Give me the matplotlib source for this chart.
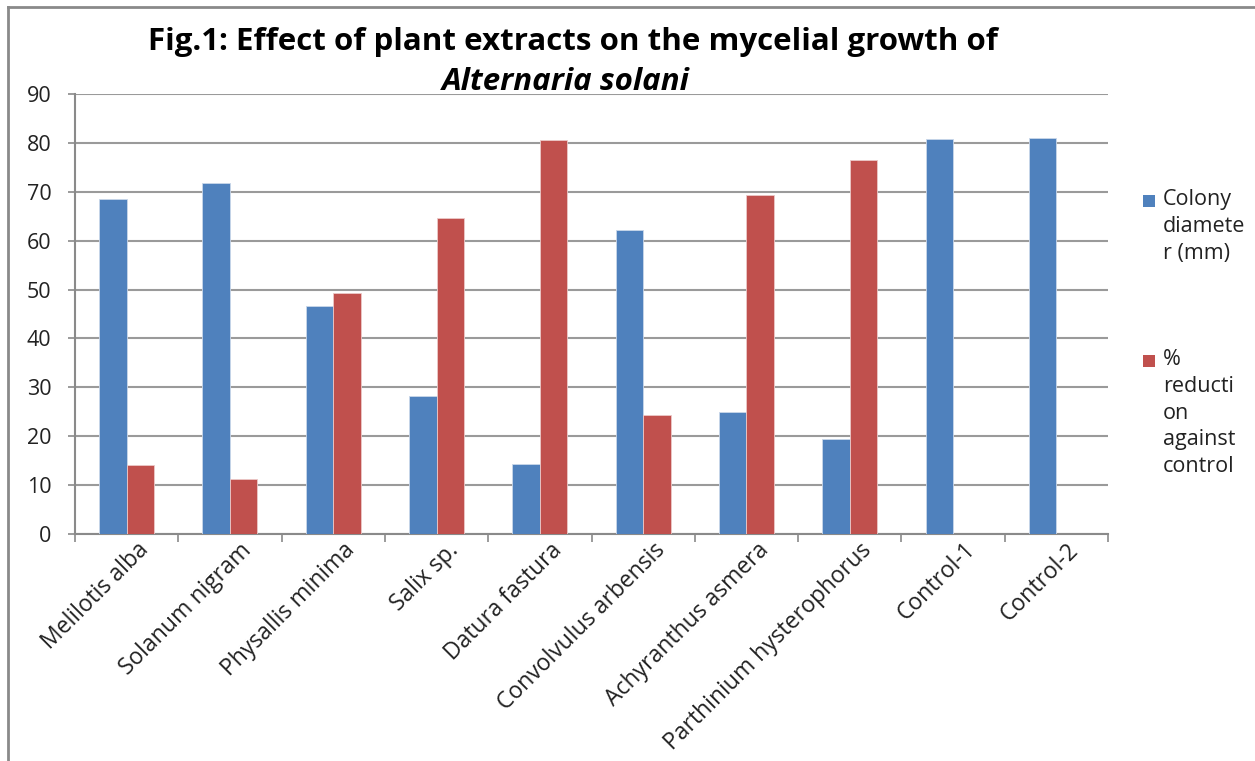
import numpy as np
import matplotlib.pyplot as plt
import matplotlib.transforms as mtransforms
from matplotlib.patches import Rectangle
from matplotlib.lines import Line2D

## Data
categories = ['Melilotis alba', 'Solanum nigram', 'Physallis minima', 'Salix sp.',
              'Datura fastura', 'Convolvulus arbensis', 'Achyranthus asmera',
              'Parthinium hysterophorus', 'Control-1', 'Control-2']
colony_diameter = [68.5, 71.7, 46.6, 28.3, 14.4, 62.1, 24.9, 19.4, 80.7, 81.1]
pct_reduction = [14.2, 11.2, 49.2, 64.6, 80.5, 24.4, 69.3, 76.6, np.nan, np.nan]
series_labels = ['Colony\ndiamete\nr (mm)', '%\nreducti\non\nagainst\ncontrol']
series_colors = ['#4F81BD', '#C0504D']
y_ticks = np.arange(0, 91, 10)

plt.rcParams['font.family'] = ['Open Sans', 'DejaVu Sans']

W, H = 1255, 761
fig = plt.figure(figsize=(W/100., H/100.), dpi=100)
ax = fig.add_axes([75/W, 1-534/H, (1108-75)/W, (534-94)/H])

x = np.arange(len(categories))
bw = 0.266
ax.bar(x - bw/2, colony_diameter, bw, color=series_colors[0], edgecolor='#c9d7ea', linewidth=0.6, zorder=3)
ax.bar(x + bw/2, pct_reduction, bw, color=series_colors[1], edgecolor='#ecc9c8', linewidth=0.6, zorder=3)

ax.set_xlim(-0.5, len(categories)-0.5)
ax.set_ylim(0, 90)
ax.set_yticks(y_ticks)
ax.set_yticklabels([str(v) for v in y_ticks], fontsize=15.5, color='#222222')
ax.yaxis.grid(True, color='#9a9a9a', linewidth=1.5, zorder=0)

## category ticks at the boundaries, labels at the centres
ax.set_xticks(np.arange(len(categories)+1) - 0.5)
ax.set_xticklabels([])
ax.set_xticks(x, minor=True)
ax.set_xticklabels(categories, minor=True, rotation=45, ha='right', rotation_mode='anchor',
                   fontsize=16.5, color='#222222')
ax.tick_params(axis='x', which='minor', length=0, pad=3)
ax.tick_params(axis='x', which='major', length=6, color='#8a8a8a', width=1.2)
ax.tick_params(axis='y', length=5, color='#8a8a8a', width=1.2, pad=12)
shift = mtransforms.ScaledTranslation(10/100., 0, fig.dpi_scale_trans)
for lbl in ax.get_xticklabels(minor=True):
   lbl.set_transform(lbl.get_transform() + shift)

for s in ['top', 'right']:
   ax.spines[s].set_visible(False)
for s in ['left', 'bottom']:
   ax.spines[s].set_color('#8a8a8a')
   ax.spines[s].set_linewidth(1.5)

## title
fig.text(573/W, 1-42/H, 'Fig.1: Effect of plant extracts on the mycelial growth of',
         ha='center', va='center', fontsize=22.5, fontweight='bold')
fig.text(566/W, 1-82/H, 'Alternaria solani', ha='center', va='center',
         fontsize=22.5, fontweight='bold', style='italic')

## legend, drawn by hand so the marker sits at the first line
leg_top = [189, 349]
for lab, col, top in zip(series_labels, series_colors, leg_top):
   fig.add_artist(Rectangle((1143/W, 1-(top+18)/H), 12/W, 12/H, transform=fig.transFigure,
                            facecolor=col, edgecolor='none'))
   fig.text(1163/W, 1-top/H, lab, ha='left', va='top', fontsize=15.5,
            color='#222222', linespacing=1.36)

## outer frame of the chart
fig.add_artist(Line2D([8/W, 8/W], [0, 1-7/H], transform=fig.transFigure, color='#8a8a8a', linewidth=2))
fig.add_artist(Line2D([8/W, 1], [1-7/H, 1-7/H], transform=fig.transFigure, color='#8a8a8a', linewidth=2))

fig.savefig('out.png', dpi=100)
